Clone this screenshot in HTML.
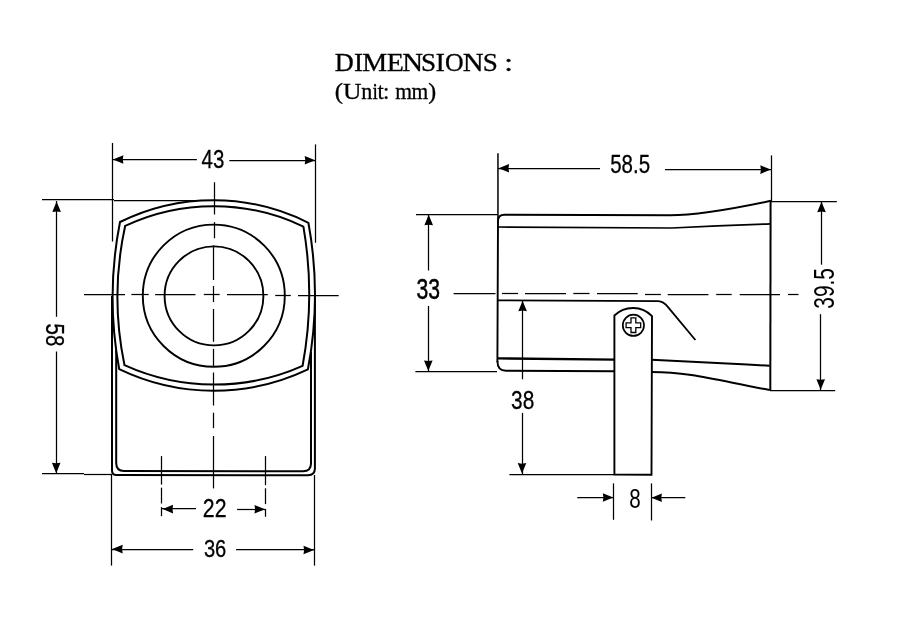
<!DOCTYPE html>
<html><head><meta charset="utf-8"><title>Dimensions</title><style>
html,body{margin:0;padding:0;background:#fff;}
body{width:905px;height:618px;overflow:hidden;position:relative;}
svg{position:absolute;left:0;top:0;display:block;}
svg{will-change:transform;}
</style></head><body>
<svg width="905" height="618" viewBox="0 0 905 618">
<rect x="0" y="0" width="905" height="618" fill="#fff"/>
<g stroke="#000" fill="none" stroke-linecap="butt">
<line x1="112.5" y1="143" x2="112.5" y2="241.5" stroke-width="1.25"/>
<line x1="315.5" y1="144.4" x2="315.5" y2="242.8" stroke-width="1.25"/>
<line x1="42" y1="199.5" x2="114" y2="199.5" stroke-width="1.25"/>
<line x1="114" y1="200.5" x2="195" y2="200.5" stroke-width="1.25"/>
<line x1="42" y1="473.5" x2="84" y2="473.5" stroke-width="1.25"/>
<line x1="84" y1="474.5" x2="112" y2="474.5" stroke-width="1.25"/>
<line x1="111.5" y1="474" x2="111.5" y2="565.6" stroke-width="1.25"/>
<line x1="314.5" y1="475" x2="314.5" y2="565.6" stroke-width="1.25"/>
<line x1="112.7" y1="159.5" x2="196.9" y2="159.5" stroke-width="1.25"/>
<line x1="229.3" y1="160.5" x2="315.4" y2="160.5" stroke-width="1.25"/>
<polygon points="112.90,159.50 123.40,155.20 122.80,159.50 123.40,163.80" stroke="none" fill="#000"/>
<polygon points="315.20,160.20 304.70,155.90 305.30,160.20 304.70,164.50" stroke="none" fill="#000"/>
<line x1="56.5" y1="201" x2="56.5" y2="316.8" stroke-width="1.25"/>
<line x1="56.5" y1="351.5" x2="56.5" y2="473" stroke-width="1.25"/>
<polygon points="56.60,201.60 52.30,212.10 56.60,211.50 60.90,212.10" stroke="none" fill="#000"/>
<polygon points="56.20,473.20 51.90,462.70 56.20,463.30 60.50,462.70" stroke="none" fill="#000"/>
<line x1="161.5" y1="456.1" x2="161.5" y2="484.6" stroke-width="1.25"/>
<line x1="161.5" y1="487.7" x2="161.5" y2="503.5" stroke-width="1.25"/>
<line x1="161.5" y1="507.1" x2="161.5" y2="516.2" stroke-width="1.25"/>
<line x1="265.5" y1="456.1" x2="265.5" y2="485.2" stroke-width="1.25"/>
<line x1="265.5" y1="488.3" x2="265.5" y2="504.1" stroke-width="1.25"/>
<line x1="265.5" y1="508.9" x2="265.5" y2="516.8" stroke-width="1.25"/>
<line x1="162" y1="508.5" x2="196" y2="508.5" stroke-width="1.25"/>
<line x1="237.1" y1="509.5" x2="265.2" y2="509.5" stroke-width="1.25"/>
<polygon points="162.60,509.10 173.10,504.80 172.50,509.10 173.10,513.40" stroke="none" fill="#000"/>
<polygon points="265.00,509.20 254.50,504.90 255.10,509.20 254.50,513.50" stroke="none" fill="#000"/>
<line x1="112" y1="549.5" x2="193.2" y2="549.5" stroke-width="1.25"/>
<line x1="236.1" y1="549.5" x2="314.3" y2="549.5" stroke-width="1.25"/>
<polygon points="112.20,549.10 122.70,544.80 122.10,549.10 122.70,553.40" stroke="none" fill="#000"/>
<polygon points="314.00,550.00 303.50,545.70 304.10,550.00 303.50,554.30" stroke="none" fill="#000"/>
<path d="M112,296 L112,470.5 Q112,475 116.5,475 L308,475.2 Q314.9,475.2 314.9,468.5 L314.9,296" stroke-width="2.0" fill="none" />
<path d="M116.2,350 L116.2,463 Q116.2,471 124,471 L303,471.3 Q311,471.3 311,463.5 L311,352" stroke-width="2.0" fill="none" />
<path d="M120.0,222.0 A211,211 0 0 1 308.4,222.8 A398.5,398.5 0 0 1 307.9,369.4 A218,218 0 0 1 119.2,369.1 A392,392 0 0 1 120.0,222.0 Z" stroke-width="2.0" fill="#fff" stroke-linejoin="miter"/>
<path d="M125.2,225.8 A208,208 0 0 1 303.4,226.6 A394,394 0 0 1 302.6,365.8 A217,217 0 0 1 124.5,365.2 A333,333 0 0 1 125.2,225.8 Z" stroke-width="2.0" fill="none" />
<ellipse cx="213.8" cy="295.7" rx="71" ry="71.1" stroke-width="1.9" fill="none"/>
<ellipse cx="214.0" cy="295.9" rx="49.4" ry="49.5" stroke-width="1.9" fill="none"/>
<line x1="84" y1="294.5" x2="125" y2="294.5" stroke-width="1.25"/>
<line x1="131.4" y1="294.5" x2="148.7" y2="294.5" stroke-width="1.25"/>
<line x1="155.1" y1="294.5" x2="195.5" y2="294.5" stroke-width="1.25"/>
<line x1="203.8" y1="294.5" x2="219.6" y2="294.5" stroke-width="1.25"/>
<line x1="227" y1="294.5" x2="267.8" y2="294.5" stroke-width="1.25"/>
<line x1="275.2" y1="295.5" x2="290.8" y2="295.5" stroke-width="1.25"/>
<line x1="298" y1="295.5" x2="338.7" y2="295.5" stroke-width="1.25"/>
<line x1="214.5" y1="182.3" x2="214.5" y2="214.5" stroke-width="1.25"/>
<line x1="214.5" y1="222.1" x2="214.5" y2="238.3" stroke-width="1.25"/>
<line x1="213.5" y1="245.4" x2="213.5" y2="280" stroke-width="1.25"/>
<line x1="213.5" y1="286" x2="213.5" y2="302" stroke-width="1.25"/>
<line x1="213.5" y1="309" x2="213.5" y2="341.8" stroke-width="1.25"/>
<line x1="213.5" y1="348.9" x2="213.5" y2="366.7" stroke-width="1.25"/>
<line x1="213.5" y1="372.5" x2="213.5" y2="405.5" stroke-width="1.25"/>
<line x1="213.5" y1="412.7" x2="213.5" y2="428.2" stroke-width="1.25"/>
<line x1="213.5" y1="436" x2="213.5" y2="488.4" stroke-width="1.25"/>
<line x1="497.95" y1="153.3" x2="497.95" y2="221" stroke-width="1.5"/>
<line x1="771.5" y1="155.4" x2="771.5" y2="201" stroke-width="1.25"/>
<line x1="416" y1="214.5" x2="498" y2="214.5" stroke-width="1.25"/>
<line x1="415.4" y1="371.5" x2="497" y2="371.5" stroke-width="1.25"/>
<line x1="771" y1="201.5" x2="836.8" y2="201.5" stroke-width="1.25"/>
<line x1="770" y1="390.5" x2="835.2" y2="390.5" stroke-width="1.25"/>
<line x1="509.4" y1="474.5" x2="614" y2="474.5" stroke-width="1.25"/>
<line x1="613.5" y1="483.4" x2="613.5" y2="519.8" stroke-width="1.25"/>
<line x1="651.5" y1="483.4" x2="651.5" y2="520.5" stroke-width="1.25"/>
<line x1="498.2" y1="168.5" x2="600" y2="168.5" stroke-width="1.25"/>
<line x1="665" y1="169.5" x2="771" y2="169.5" stroke-width="1.25"/>
<polygon points="498.60,168.30 509.10,164.00 508.50,168.30 509.10,172.60" stroke="none" fill="#000"/>
<polygon points="770.80,169.60 760.30,165.30 760.90,169.60 760.30,173.90" stroke="none" fill="#000"/>
<line x1="428.5" y1="214.3" x2="428.5" y2="270.5" stroke-width="1.25"/>
<line x1="428.5" y1="306" x2="428.5" y2="371" stroke-width="1.25"/>
<polygon points="428.70,214.80 424.40,225.30 428.70,224.70 433.00,225.30" stroke="none" fill="#000"/>
<polygon points="428.30,370.90 424.00,360.40 428.30,361.00 432.60,360.40" stroke="none" fill="#000"/>
<line x1="821.5" y1="201.2" x2="821.5" y2="264.7" stroke-width="1.25"/>
<line x1="820.5" y1="314.2" x2="820.5" y2="390" stroke-width="1.25"/>
<polygon points="821.50,201.70 817.20,212.20 821.50,211.60 825.80,212.20" stroke="none" fill="#000"/>
<polygon points="820.70,389.70 816.40,379.20 820.70,379.80 825.00,379.20" stroke="none" fill="#000"/>
<line x1="522.5" y1="300.5" x2="522.5" y2="379.3" stroke-width="1.25"/>
<line x1="522.5" y1="412.9" x2="522.5" y2="474" stroke-width="1.25"/>
<polygon points="522.60,300.70 518.30,311.20 522.60,310.60 526.90,311.20" stroke="none" fill="#000"/>
<polygon points="522.00,473.60 517.70,463.10 522.00,463.70 526.30,463.10" stroke="none" fill="#000"/>
<line x1="577.3" y1="497.5" x2="613.5" y2="497.5" stroke-width="1.25"/>
<line x1="651.2" y1="497.5" x2="685.3" y2="497.5" stroke-width="1.25"/>
<polygon points="613.30,497.50 602.80,493.20 603.40,497.50 602.80,501.80" stroke="none" fill="#000"/>
<polygon points="651.40,497.80 661.90,493.50 661.30,497.80 661.90,502.10" stroke="none" fill="#000"/>
<path d="M497.4,362 L498,221 Q498,214.8 504.5,214.8 L670,215.3 C695,215.3 735,208.5 771,200.8" stroke-width="1.9" fill="none" />
<path d="M498,227.0 L671.9,228.0 Q720,225.6 770.5,223.8" stroke-width="1.7" fill="none" />
<path d="M497.4,361 Q497.4,370.7 506,370.7 L614.5,371.2" stroke-width="1.9" fill="none" />
<path d="M498,300.3 L658.3,301.2 Q663.5,301.6 667.4,306.4 L695.4,340" stroke-width="1.8" fill="none" />
<path d="M498,358.4 L614.5,359.6" stroke-width="2.3" fill="none" />
<path d="M651.7,359.7 C690,361.6 730,363.6 769.6,365.7" stroke-width="2.0" fill="none" />
<path d="M651.7,371.9 C690,372 720,381 769.8,390" stroke-width="2.0" fill="none" />
<path d="M770.6,200.8 L770.3,390.4" stroke-width="2.0" fill="none" />
<path d="M614.4,474.6 L614.4,315.5 A26.5,26.5 0 0 1 652.0,316.1 L651.5,474.7 Z" stroke-width="1.9" fill="none" />
<circle cx="633.4" cy="325.3" r="10.6" stroke-width="1.7" fill="none"/>
<polygon points="631.0,317.9 635.8,317.9 635.8,322.8 640.7,322.8 640.7,327.6 635.8,327.6 635.8,332.5 631.0,332.5 631.0,327.6 626.1,327.6 626.1,322.8 631.0,322.8" stroke-width="1.3" fill="none"/>
<line x1="453.6" y1="293.5" x2="495.5" y2="293.5" stroke-width="1.25"/>
<line x1="502" y1="293.5" x2="518.1" y2="293.5" stroke-width="1.25"/>
<line x1="525" y1="293.5" x2="566" y2="293.5" stroke-width="1.25"/>
<line x1="573.3" y1="293.5" x2="589.5" y2="293.5" stroke-width="1.25"/>
<line x1="597" y1="293.5" x2="637.7" y2="293.5" stroke-width="1.25"/>
<line x1="645" y1="294.5" x2="660.9" y2="294.5" stroke-width="1.25"/>
<line x1="667.7" y1="294.5" x2="708.4" y2="294.5" stroke-width="1.25"/>
<line x1="716.2" y1="294.5" x2="731.7" y2="294.5" stroke-width="1.25"/>
<line x1="739.7" y1="294.5" x2="780" y2="294.5" stroke-width="1.25"/>
<line x1="788" y1="294.5" x2="798.5" y2="294.5" stroke-width="1.25"/>
<text transform="translate(201.56,167.85) scale(0.8110,1)" font-size="25.26" fill="#000" stroke="#000" stroke-width="0.3" font-family="Liberation Sans, sans-serif">43</text>
<text transform="translate(610.21,173.35) scale(0.8112,1)" font-size="25.26" fill="#000" stroke="#000" stroke-width="0.3" font-family="Liberation Sans, sans-serif">58.5</text>
<text transform="translate(202.79,517.35) scale(0.8323,1)" font-size="25.60" fill="#000" stroke="#000" stroke-width="0.3" font-family="Liberation Sans, sans-serif">22</text>
<text transform="translate(203.91,556.96) scale(0.8182,1)" font-size="24.67" fill="#000" stroke="#000" stroke-width="0.3" font-family="Liberation Sans, sans-serif">36</text>
<text transform="translate(511.05,409.19) scale(0.8160,1)" font-size="25.53" fill="#000" stroke="#000" stroke-width="0.3" font-family="Liberation Sans, sans-serif">38</text>
<text transform="translate(629.37,507.79) scale(0.7645,1)" font-size="26.95" fill="#000" stroke="#000" stroke-width="0.0" font-family="Liberation Sans, sans-serif">8</text>
<text transform="translate(416.40,298.93) scale(0.7270,1)" font-size="29.11" fill="#000" stroke="#000" stroke-width="0.5" font-family="Liberation Sans, sans-serif">33</text>
<text transform="translate(45.67,323.48) rotate(90) scale(0.7864,1)" font-size="26.10" fill="#000" stroke="#000" stroke-width="0.3" font-family="Liberation Sans, sans-serif">58</text>
<text transform="translate(834.00,308.75) rotate(-90) scale(0.7288,1)" font-size="28.75" fill="#000" stroke="#000" stroke-width="0.0" font-family="Liberation Sans, sans-serif">39.5</text>
</g>
<text font-family="Liberation Serif, serif" fill="#000" stroke="#000" stroke-width="0.3" transform="translate(334.74,71) scale(1.028,1)" font-size="25.6">D</text>
<text font-family="Liberation Serif, serif" fill="#000" stroke="#000" stroke-width="0.3" transform="translate(353.92,71) scale(1.060,1)" font-size="25.6">I</text>
<text font-family="Liberation Serif, serif" fill="#000" stroke="#000" stroke-width="0.3" transform="translate(362.29,71) scale(1.095,1)" font-size="25.6">M</text>
<text font-family="Liberation Serif, serif" fill="#000" stroke="#000" stroke-width="0.3" transform="translate(386.69,71) scale(1.094,1)" font-size="25.6">E</text>
<text font-family="Liberation Serif, serif" fill="#000" stroke="#000" stroke-width="0.3" transform="translate(402.17,71) scale(1.125,1)" font-size="25.6">N</text>
<text font-family="Liberation Serif, serif" fill="#000" stroke="#000" stroke-width="0.3" transform="translate(420.98,71) scale(1.061,1)" font-size="25.6">S</text>
<text font-family="Liberation Serif, serif" fill="#000" stroke="#000" stroke-width="0.3" transform="translate(435.38,71) scale(1.104,1)" font-size="25.6">I</text>
<text font-family="Liberation Serif, serif" fill="#000" stroke="#000" stroke-width="0.3" transform="translate(444.94,71) scale(1.007,1)" font-size="25.6">O</text>
<text font-family="Liberation Serif, serif" fill="#000" stroke="#000" stroke-width="0.3" transform="translate(462.77,71) scale(1.130,1)" font-size="25.6">N</text>
<text font-family="Liberation Serif, serif" fill="#000" stroke="#000" stroke-width="0.3" transform="translate(482.78,71) scale(1.061,1)" font-size="25.6">S</text>
<text font-family="Liberation Serif, serif" fill="#000" stroke="#000" stroke-width="0.3" transform="translate(504.21,71) scale(1.228,1)" font-size="25.6">:</text>
<text font-family="Liberation Serif, serif" fill="#000" stroke="#000" stroke-width="0.3" transform="translate(334.70,99.3) scale(1.083,1)" font-size="23">(</text>
<text font-family="Liberation Serif, serif" fill="#000" stroke="#000" stroke-width="0.3" transform="translate(343.06,99.3) scale(1.112,1)" font-size="23">U</text>
<text font-family="Liberation Serif, serif" fill="#000" stroke="#000" stroke-width="0.3" transform="translate(361.29,99.3) scale(0.960,1)" font-size="23">n</text>
<text font-family="Liberation Serif, serif" fill="#000" stroke="#000" stroke-width="0.3" transform="translate(372.39,99.3) scale(0.841,1)" font-size="23">i</text>
<text font-family="Liberation Serif, serif" fill="#000" stroke="#000" stroke-width="0.3" transform="translate(377.38,99.3) scale(0.978,1)" font-size="23">t</text>
<text font-family="Liberation Serif, serif" fill="#000" stroke="#000" stroke-width="0.3" transform="translate(382.89,99.3) scale(0.998,1)" font-size="23">:</text>
<text font-family="Liberation Serif, serif" fill="#000" stroke="#000" stroke-width="0.3" transform="translate(395.15,99.3) scale(0.939,1)" font-size="23">m</text>
<text font-family="Liberation Serif, serif" fill="#000" stroke="#000" stroke-width="0.3" transform="translate(411.45,99.3) scale(0.933,1)" font-size="23">m</text>
<text font-family="Liberation Serif, serif" fill="#000" stroke="#000" stroke-width="0.3" transform="translate(428.23,99.3) scale(1.033,1)" font-size="23">)</text>
</svg>
</body></html>
